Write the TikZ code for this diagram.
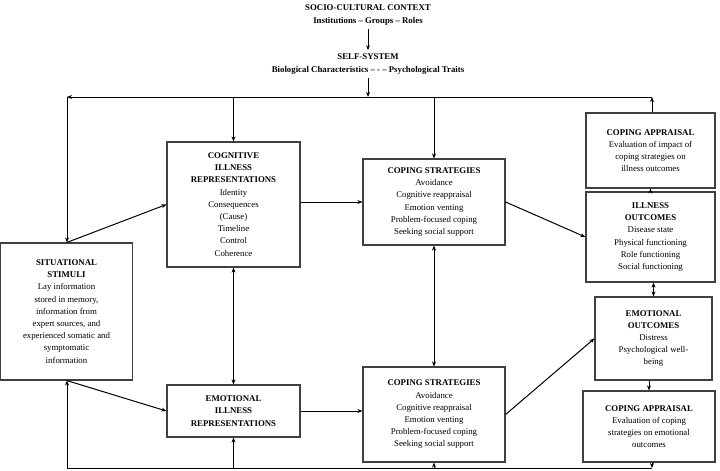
\documentclass[tikz,border=0pt]{standalone}
\usepackage{fontspec}
\setmainfont{Liberation Serif}
\usetikzlibrary{positioning,calc,arrows.meta}
\begin{document}
\begin{tikzpicture}[x=1pt,y=-1pt,>={Stealth[length=5pt,width=4pt]},
    line width=1pt,
    box/.style={draw=black!75,line width=1.2pt,align=center,inner sep=2pt,
        font=\fontsize{8.8}{12.2}\selectfont},
    head/.style={font=\fontsize{8.8}{12.2}\selectfont\bfseries,align=center}]
\useasboundingbox (0,0) rectangle (720,471);
%Header
    \node[head] (ctx) at (368,15) {SOCIO-CULTURAL CONTEXT\\Institutions -- Groups -- Roles};
    \node[head] (self) at (368,64) {SELF-SYSTEM\\Biological Characteristics -- - -- Psychological Traits};
%Boxes
    \node[box,minimum width=133,minimum height=125] (cog) at (233.5,204.5)
        {\textbf{COGNITIVE}\\\textbf{ILLNESS}\\\textbf{REPRESENTATIONS}\\Identity\\Consequences\\(Cause)\\Timeline\\Control\\Coherence};
    \node[box,minimum width=142,minimum height=86] (copA) at (434,202)
        {\textbf{COPING STRATEGIES}\\Avoidance\\Cognitive reappraisal\\Emotion venting\\Problem-focused coping\\Seeking social support};
    \node[box,minimum width=129,minimum height=75] (appA) at (650.5,150.5)
        {\textbf{COPING APPRAISAL}\\Evaluation of impact of\\coping strategies on\\illness outcomes};
    \node[box,minimum width=129,minimum height=90] (ill) at (650.5,237)
        {\textbf{ILLNESS}\\\textbf{OUTCOMES}\\Disease state\\Physical functioning\\Role functioning\\Social functioning};
    \node[box,minimum width=117,minimum height=83] (emo) at (653.5,338.5)
        {\textbf{EMOTIONAL}\\\textbf{OUTCOMES}\\Distress\\Psychological well-\\being};
    \node[box,minimum width=132,minimum height=71] (appB) at (649,426.5)
        {\textbf{COPING APPRAISAL}\\Evaluation of coping\\strategies on emotional\\outcomes};
    \node[box,minimum width=132,minimum height=137] (sit) at (66.5,311.5)
        {\textbf{SITUATIONAL}\\\textbf{STIMULI}\\Lay information\\stored in memory,\\information from\\expert sources, and\\experienced somatic and\\symptomatic\\information};
    \node[box,minimum width=133,minimum height=52] (emr) at (233.5,411)
        {\textbf{EMOTIONAL}\\\textbf{ILLNESS}\\\textbf{REPRESENTATIONS}};
    \node[box,minimum width=142,minimum height=95] (copB) at (434,414.5)
        {\textbf{COPING STRATEGIES}\\Avoidance\\Cognitive reappraisal\\Emotion venting\\Problem-focused coping\\Seeking social support};
%Feedback lines
    \coordinate (tl) at (67,97);
    \coordinate (tr) at (652,97);
    \coordinate (bl) at (67,468);
    \coordinate (br) at (652,468);
%Connectors
    \draw[->] (ctx) -- (self);
    \draw[->] (self.south) -- (self.south |- tr);
    \draw[->] (appA.north -| tr) -- (tr);
    \draw[->] (tr) -- (tl);
    \draw[->] (tl) -- (sit.north -| tl);
    \draw[->] (cog.north |- tl) -- (cog.north);
    \draw[->] (copA.north |- tl) -- (copA.north);
    \draw[->] (appB.south -| br) -- (br);
    \draw (br) -- (bl);
    \draw[->] (bl) -- (sit.south -| bl);
    \draw[->] (emr.south |- bl) -- (emr.south);
    \draw[->] (copB.south |- bl) -- (copB.south);
    \draw[->] (sit.north -| tl) -- (cog.west);
    \draw[->] (sit.south -| bl) -- (emr.west);
    \draw[<->] (cog) -- (emr);
    \draw[<->] (copA) -- (copB);
    \draw[->] (cog.east |- copA.west) -- (copA.west);
    \draw[->] (emr) -- (emr -| copB.west);
    \draw[->] (copA.east) -- (ill.west);
    \draw[->] (copB.east) -- (emo.west);
    \draw[->] (ill.north -| appA) -- (appA.south);
    \draw[<->] (ill.south -| emo) -- (emo.north);
    \draw[->] (emo.south -| appB) -- (appB.north);
\end{tikzpicture}
\end{document}
